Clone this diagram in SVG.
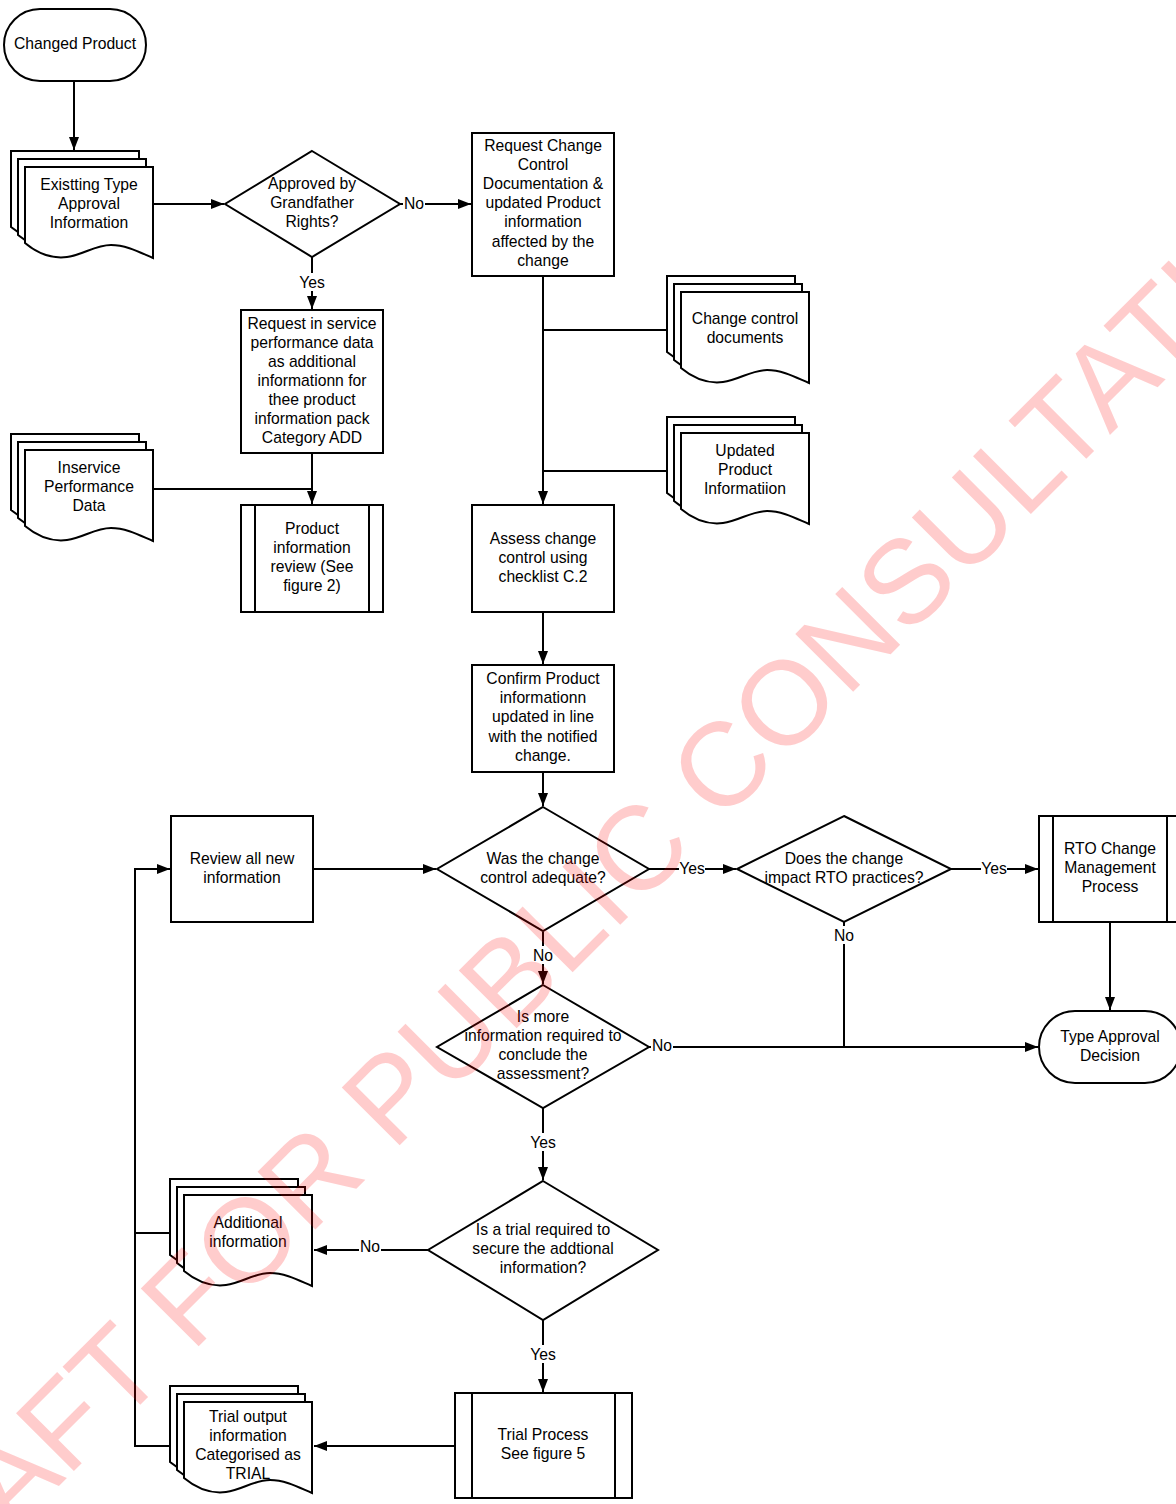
<svg xmlns="http://www.w3.org/2000/svg" width="1176" height="1504" viewBox="0 0 1176 1504">
  <style>
    .shape { fill: #ffffff; stroke: #000000; stroke-width: 2; }
    .line { fill: none; stroke: #000000; stroke-width: 2; }
    .arrow { fill: none; stroke: #000000; stroke-width: 2; marker-end: url(#head); }
    text { font-family: "Liberation Sans", Arial, sans-serif; font-size: 15.7px; fill: #000000; text-anchor: middle; dominant-baseline: central; }
    .lblbg { fill: #ffffff; stroke: none; }
    .mark { font-size: 119px; fill: #ff0000; fill-opacity: 0.2; dominant-baseline: alphabetic; }
  </style>
  <defs>
    <marker id="head" markerUnits="userSpaceOnUse" markerWidth="14" markerHeight="12" refX="13" refY="5" orient="auto">
      <path d="M0,0 L13,5 L0,10 Z" fill="#000000"/>
    </marker>
    <!-- single sheet of a document stack, 128 wide, wavy bottom -->
    <path id="sheet" class="shape" d="M0,0 H128 V91 C116,86 102,78 86,78 C70,78 58,88 42,90 C26,92 12,86 0,76 Z"/>
  </defs>
  <rect width="1176" height="1504" fill="#ffffff"/>

  <!-- connectors -->
  <g id="connectors">
    <path class="arrow" d="M74,81 V150"/>
    <path class="arrow" d="M153,204 H224"/>
    <path class="arrow" d="M400,204 H471"/>
    <path class="arrow" d="M312,257 V309"/>
    <path class="arrow" d="M543,276 V504"/>
    <path class="line" d="M543,330 H667"/>
    <path class="line" d="M543,471 H667"/>
    <path class="arrow" d="M312,453 V504"/>
    <path class="line" d="M153,489 H312"/>
    <path class="arrow" d="M543,612 V664"/>
    <path class="arrow" d="M543,772 V806"/>
    <path class="arrow" d="M313,869 H436"/>
    <path class="arrow" d="M649,869 H736"/>
    <path class="arrow" d="M951,869 H1038"/>
    <path class="arrow" d="M1110,922 V1010"/>
    <path class="line" d="M844,922 V1047"/>
    <path class="arrow" d="M649,1047 H1038"/>
    <path class="arrow" d="M543,932 V984"/>
    <path class="arrow" d="M543,1108 V1180"/>
    <path class="arrow" d="M428,1250 H314"/>
    <path class="arrow" d="M543,1320 V1392"/>
    <path class="arrow" d="M455,1446 H314"/>
    <path class="line" d="M170,1233 H135"/>
    <path class="arrow" d="M170,1446 H135 V869 H170"/>

    <!-- connector labels -->
    <rect class="lblbg" x="403" y="195" width="22" height="18"/><text x="414" y="203">No</text>
    <rect class="lblbg" x="299" y="273" width="26" height="18"/><text x="312" y="282">Yes</text>
    <rect class="lblbg" x="679" y="860" width="26" height="18"/><text x="692" y="868">Yes</text>
    <rect class="lblbg" x="981" y="860" width="26" height="18"/><text x="994" y="868">Yes</text>
    <rect class="lblbg" x="833" y="926" width="22" height="18"/><text x="844" y="935">No</text>
    <rect class="lblbg" x="532" y="946" width="22" height="18"/><text x="543" y="955">No</text>
    <rect class="lblbg" x="651" y="1037" width="22" height="18"/><text x="662" y="1045">No</text>
    <rect class="lblbg" x="530" y="1133" width="26" height="18"/><text x="543" y="1142">Yes</text>
    <rect class="lblbg" x="359" y="1238" width="22" height="18"/><text x="370" y="1246">No</text>
    <rect class="lblbg" x="530" y="1345" width="26" height="18"/><text x="543" y="1354">Yes</text>
  </g>

  <!-- nodes -->
  <g id="changed-product">
    <rect class="shape" x="4" y="9" width="142" height="72" rx="36" ry="36"/>
    <text x="75" y="43">Changed Product</text>
  </g>

  <g id="existing-type-approval">
    <use href="#sheet" x="11" y="151"/>
    <use href="#sheet" x="18" y="159"/>
    <use href="#sheet" x="25" y="167"/>
    <text x="89" y="184">Existting Type</text>
    <text x="89" y="203">Approval</text>
    <text x="89" y="222">Information</text>
  </g>

  <g id="grandfather-decision">
    <path class="shape" d="M312,151 L400,204 L312,257 L225,204 Z"/>
    <text x="312" y="183">Approved by</text>
    <text x="312" y="202">Grandfather</text>
    <text x="312" y="221">Rights?</text>
  </g>

  <g id="request-change-control">
    <rect class="shape" x="472" y="133" width="142" height="143"/>
    <text x="543" y="145">Request Change</text>
    <text x="543" y="164">Control</text>
    <text x="543" y="183">Documentation &amp;</text>
    <text x="543" y="202">updated Product</text>
    <text x="543" y="221">information</text>
    <text x="543" y="241">affected by the</text>
    <text x="543" y="260">change</text>
  </g>

  <g id="change-control-documents">
    <use href="#sheet" x="667" y="276"/>
    <use href="#sheet" x="674" y="284"/>
    <use href="#sheet" x="681" y="292"/>
    <text x="745" y="318">Change control</text>
    <text x="745" y="337">documents</text>
  </g>

  <g id="updated-product-information">
    <use href="#sheet" x="667" y="417"/>
    <use href="#sheet" x="674" y="425"/>
    <use href="#sheet" x="681" y="433"/>
    <text x="745" y="450">Updated</text>
    <text x="745" y="469">Product</text>
    <text x="745" y="488">Informatiion</text>
  </g>

  <g id="request-in-service-data">
    <rect class="shape" x="241" y="310" width="142" height="143"/>
    <text x="312" y="323">Request in service</text>
    <text x="312" y="342">performance data</text>
    <text x="312" y="361">as additional</text>
    <text x="312" y="380">informationn for</text>
    <text x="312" y="399">thee product</text>
    <text x="312" y="418">information pack</text>
    <text x="312" y="437">Category ADD</text>
  </g>

  <g id="inservice-performance-data">
    <use href="#sheet" x="11" y="434"/>
    <use href="#sheet" x="18" y="442"/>
    <use href="#sheet" x="25" y="450"/>
    <text x="89" y="467">Inservice</text>
    <text x="89" y="486">Performance</text>
    <text x="89" y="505">Data</text>
  </g>

  <g id="product-information-review">
    <rect class="shape" x="241" y="505" width="142" height="107"/>
    <path class="line" d="M255,505 V612 M369,505 V612"/>
    <text x="312" y="528">Product</text>
    <text x="312" y="547">information</text>
    <text x="312" y="566">review (See</text>
    <text x="312" y="585">figure 2)</text>
  </g>

  <g id="assess-change-control">
    <rect class="shape" x="472" y="505" width="142" height="107"/>
    <text x="543" y="538">Assess change</text>
    <text x="543" y="557">control using</text>
    <text x="543" y="576">checklist C.2</text>
  </g>

  <g id="confirm-product-information">
    <rect class="shape" x="472" y="665" width="142" height="107"/>
    <text x="543" y="678">Confirm Product</text>
    <text x="543" y="697">informationn</text>
    <text x="543" y="716">updated in line</text>
    <text x="543" y="736">with the notified</text>
    <text x="543" y="755">change.</text>
  </g>

  <g id="review-new-information">
    <rect class="shape" x="171" y="816" width="142" height="106"/>
    <text x="242" y="858">Review all new</text>
    <text x="242" y="877">information</text>
  </g>

  <g id="change-control-adequate">
    <path class="shape" d="M543,807 L649,869 L543,931 L437,869 Z"/>
    <text x="543" y="858">Was the change</text>
    <text x="543" y="877">control adequate?</text>
  </g>

  <g id="impact-rto-practices">
    <path class="shape" d="M844,816 L951,869 L844,922 L737,869 Z"/>
    <text x="844" y="858">Does the change</text>
    <text x="844" y="877">impact RTO practices?</text>
  </g>

  <g id="rto-change-management">
    <rect class="shape" x="1039" y="816" width="142" height="106"/>
    <path class="line" d="M1053,816 V922 M1167,816 V922"/>
    <text x="1110" y="848">RTO Change</text>
    <text x="1110" y="867">Management</text>
    <text x="1110" y="886">Process</text>
  </g>

  <g id="type-approval-decision">
    <rect class="shape" x="1039" y="1011" width="142" height="72" rx="36" ry="36"/>
    <text x="1110" y="1036">Type Approval</text>
    <text x="1110" y="1055">Decision</text>
  </g>

  <g id="more-information-required">
    <path class="shape" d="M543,985 L649,1047 L543,1108 L437,1047 Z"/>
    <text x="543" y="1016">Is more</text>
    <text x="543" y="1035">information required to</text>
    <text x="543" y="1054">conclude the</text>
    <text x="543" y="1073">assessment?</text>
  </g>

  <g id="trial-required">
    <path class="shape" d="M543,1181 L658,1250 L543,1320 L428,1250 Z"/>
    <text x="543" y="1229">Is a trial required to</text>
    <text x="543" y="1248">secure the addtional</text>
    <text x="543" y="1267">information?</text>
  </g>

  <g id="additional-information">
    <use href="#sheet" x="170" y="1179"/>
    <use href="#sheet" x="177" y="1187"/>
    <use href="#sheet" x="184" y="1195"/>
    <text x="248" y="1222">Additional</text>
    <text x="248" y="1241">information</text>
  </g>

  <g id="trial-process">
    <rect class="shape" x="455" y="1393" width="177" height="105"/>
    <path class="line" d="M472,1393 V1498 M615,1393 V1498"/>
    <text x="543" y="1434">Trial Process</text>
    <text x="543" y="1453">See figure 5</text>
  </g>

  <g id="trial-output-information">
    <use href="#sheet" x="170" y="1386"/>
    <use href="#sheet" x="177" y="1394"/>
    <use href="#sheet" x="184" y="1402"/>
    <text x="248" y="1416">Trial output</text>
    <text x="248" y="1435">information</text>
    <text x="248" y="1454">Categorised as</text>
    <text x="248" y="1473">TRIAL</text>
  </g>

  <!-- translucent draft stamp across the page -->
  <text class="mark" x="625" y="920" transform="rotate(-45 625 920)">DRAFT FOR PUBLIC CONSULTATION</text>
</svg>
